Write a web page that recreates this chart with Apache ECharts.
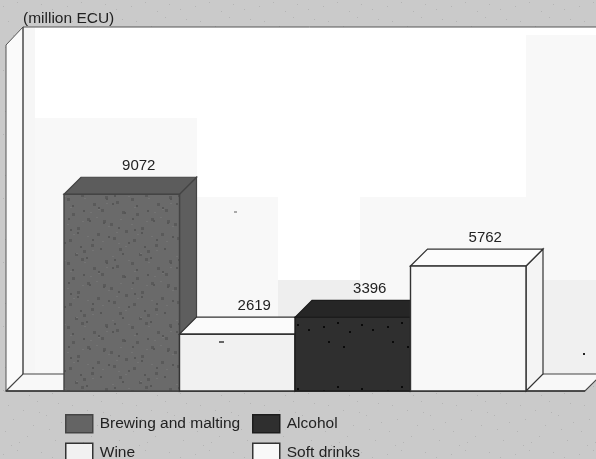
<!DOCTYPE html>
<html>
<head>
<meta charset="utf-8">
<style>html,body{margin:0;padding:0;background:#cacaca}#c{width:596px;height:459px}</style>
<script src="https://cdn.jsdelivr.net/npm/echarts@6/dist/echarts.min.js"></script>
</head>
<body>
<div id="c"></div>
<script>
const categories = ['Brewing and malting', 'Wine', 'Alcohol', 'Soft drinks'];
const values = [9072, 2619, 3396, 5762];
const unitLabel = '(million ECU)';

const frontColors = ['#646464', '#f1f1f1', '#2f2f2f', '#f8f8f8'];
const topColors = ['#5c5c5c', '#fbfbfb', '#262626', '#fcfcfc'];
const sideColors = ['#5e5e5e', '#f6f6f6', '#262626', '#f4f4f4'];
const edgeColors = ['#444444', '#333333', '#1c1c1c', '#333333'];
const DEPTH = 17;
const FONT = '"Liberation Sans", Arial, sans-serif';

// Scanned-print grain, deterministic tile offsets
const grainX = [3,17,29,41,52,8,23,37,58,13,46,61,33,5,27,49,19,55,11,39];
const grainY = [6,2,11,4,9,21,26,17,19,35,31,38,41,47,52,45,58,56,61,28];
function grainTile(base, dot, size, count, shift) {
  const t = document.createElement('canvas');
  t.width = t.height = 64;
  const g = t.getContext('2d');
  g.fillStyle = base; g.fillRect(0, 0, 64, 64);
  g.fillStyle = dot;
  grainX.slice(0, count).forEach((x, i) => g.fillRect((x + (shift || 0)) % 64, grainY[i], size, size));
  return t;
}
function mottledTile() {
  const t = grainTile('#6a6a6a', '#5a5a5a', 3, 20);
  const g = t.getContext('2d');
  g.fillStyle = '#565656';
  grainX.forEach((x, i) => g.fillRect((x + 31) % 64, (grainY[i] + 9) % 64, 2, 2));
  g.fillStyle = '#747474';
  grainX.forEach((x, i) => g.fillRect((x + 15) % 64, (grainY[i] + 23) % 64, 2, 1));
  return t;
}
document.getElementById('c').style.backgroundImage =
  'url(' + grainTile('#cacaca', '#b4b4b4', 1, 20).toDataURL() + ')';
const frontFills = [
  { image: mottledTile(), repeat: 'repeat' },
  frontColors[1],
  { image: grainTile('#2f2f2f', '#0a0a0a', 2, 7), repeat: 'repeat' },
  frontColors[3]
];

function poly(points, fill, stroke, width) {
  return { type: 'polygon', shape: { points }, style: { fill, stroke, lineWidth: width === undefined ? 1 : width } };
}

function renderBar(idx) {
  return function (params, api) {
    const p0 = api.coord([api.value(0), 0]);
    const p1 = api.coord([api.value(0), api.value(1)]);
    const w = api.size([1, 0])[0];
    const x0 = p0[0] - w / 2, x1 = p0[0] + w / 2, yb = p0[1], yt = p1[1];
    const st = edgeColors[idx];
    return {
      type: 'group',
      children: [
        poly([[x1, yt], [x1 + DEPTH, yt - DEPTH], [x1 + DEPTH, yb - DEPTH], [x1, yb]], sideColors[idx], st, 1.2),
        poly([[x0, yt], [x0 + DEPTH, yt - DEPTH], [x1 + DEPTH, yt - DEPTH], [x1, yt]], topColors[idx], st, 1.2),
        poly([[x0, yt], [x1, yt], [x1, yb], [x0, yb]], frontFills[idx], st, 1.4),
        { type: 'text', style: { text: String(api.value(1)), x: p0[0] + DEPTH, y: yt - DEPTH - 11,
          align: 'center', verticalAlign: 'middle', fill: '#222', font: '15px ' + FONT } }
      ]
    };
  };
}

function renderRoom(params, api) {
  const c = params.coordSys;
  const L = c.x - 58, R = c.x + c.width + 59, B = c.y + c.height, T = c.y;
  return {
    type: 'group',
    silent: true,
    children: [
      poly([[L, T + 1], [L + DEPTH, T - DEPTH], [L + DEPTH, B - DEPTH], [L, B]], '#fafafa', '#555', 1),
      poly([[L, B], [L + DEPTH, B - DEPTH], [R + DEPTH, B - DEPTH], [R, B]], '#f8f8f8', '#444', 1.2),
      { type: 'line', shape: { x1: L + DEPTH, y1: T - DEPTH, x2: 596, y2: T - DEPTH }, style: { stroke: '#555', lineWidth: 1 } },
      { type: 'line', shape: { x1: L + DEPTH, y1: T - DEPTH, x2: L + DEPTH, y2: B - DEPTH }, style: { stroke: '#444', lineWidth: 1 } },
      { type: 'line', shape: { x1: L, y1: B, x2: R, y2: B }, style: { stroke: '#333', lineWidth: 1.4 } }
    ]
  };
}

// Faint tonal blocks left on the back wall by the scan
const wallTones = [
  [23, 27, 573, 348, '#ffffff'], [23, 27, 12, 348, '#f6f6f6'],
  [35, 118, 162, 257, '#f8f8f8'], [197, 197, 81, 178, '#f8f8f8'],
  [278, 280, 82, 95, '#eeeeee'], [360, 197, 240, 178, '#f8f8f8'],
  [526, 35, 70, 245, '#f8f8f8'], [526, 280, 70, 95, '#f0f0f0']
];
// Stray specks on the scan
const specks = [[234, 211, 3, '#aaaaaa'], [219, 341, 5, '#666666'], [583, 353, 2, '#222222']];

const chart = echarts.init(document.getElementById('c'), null, { renderer: 'canvas', width: 596, height: 459 });

const legendBase = {
  orient: 'vertical', itemWidth: 27, itemHeight: 18, itemGap: 9, padding: 0, height: 80,
  textStyle: { fontFamily: FONT, fontSize: 15.5, color: '#222', padding: [0, 0, 0, 2] },
  selectedMode: false, icon: 'rect'
};
const legendItem = name => {
  const i = categories.indexOf(name);
  return { name, icon: 'rect', itemStyle: { color: frontColors[i], borderColor: edgeColors[i], borderWidth: 1.5 } };
};

chart.setOption({
  animation: false,
  backgroundColor: 'transparent',
  grid: { left: 64, right: 70, top: 44, height: 347 },
  xAxis: { type: 'category', data: categories, show: false },
  yAxis: { type: 'value', min: 0, max: 16000, show: false },
  legend: [
    Object.assign({}, legendBase, { left: 65, top: 414, data: [categories[0], categories[1]].map(legendItem) }),
    Object.assign({}, legendBase, { left: 252, top: 414, data: [categories[2], categories[3]].map(legendItem) })
  ],
  graphic: wallTones.map(r => ({
    type: 'rect', z: -10, silent: true,
    shape: { x: r[0], y: r[1], width: r[2], height: r[3] }, style: { fill: r[4] }
  })).concat(specks.map(s => ({
    type: 'rect', z: 30, silent: true,
    shape: { x: s[0], y: s[1], width: s[2], height: 2 }, style: { fill: s[3] }
  }))).concat([{
    type: 'text', left: 23, top: 11, z: 30,
    style: { text: unitLabel, fill: '#222', font: '15.5px ' + FONT }
  }]),
  series: [{
    type: 'custom', name: '__room', coordinateSystem: 'cartesian2d', z: 1, silent: true,
    renderItem: renderRoom, data: [[0, 0]], encode: { x: 0, y: 1 }
  }].concat(categories.map((name, i) => ({
    type: 'custom', name, coordinateSystem: 'cartesian2d', z: 2 + i, silent: true,
    itemStyle: { color: frontColors[i] },
    renderItem: renderBar(i),
    data: [[i, values[i]]],
    encode: { x: 0, y: 1 }
  })))
});
</script>
</body>
</html>
